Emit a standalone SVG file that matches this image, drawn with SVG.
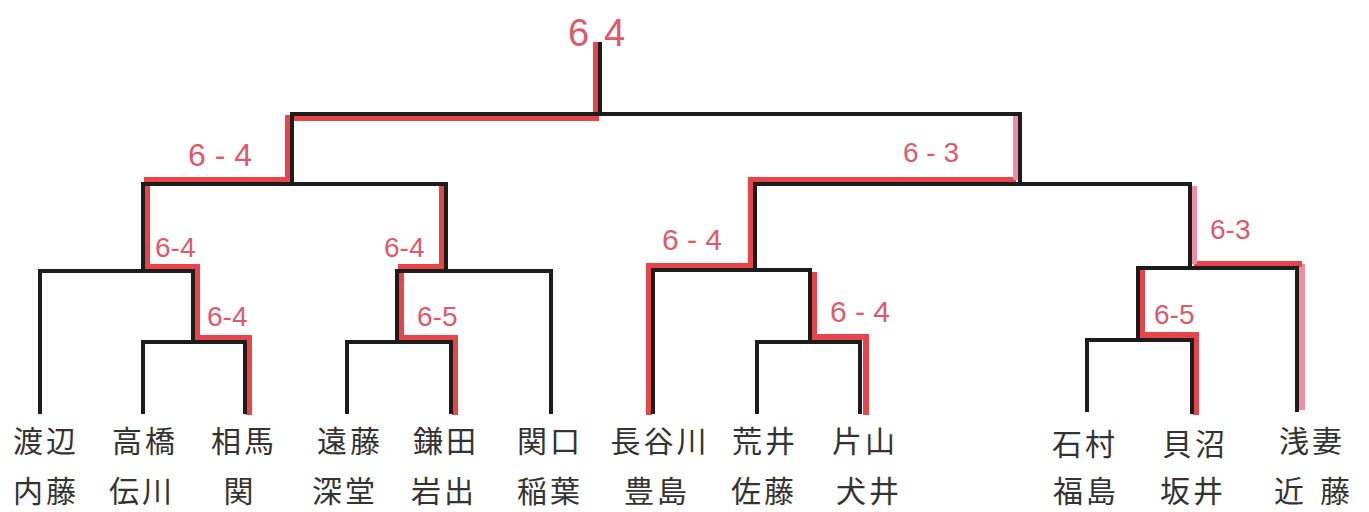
<svg xmlns="http://www.w3.org/2000/svg" width="1369" height="512" viewBox="0 0 1369 512">
<style>
.bk{fill:none;stroke:#1c1c1c;stroke-width:4;stroke-linejoin:miter;stroke-linecap:square}
.rd{fill:none;stroke:#e8444c;stroke-width:6;stroke-linejoin:miter}
.pk{fill:none;stroke:#f28ca4;stroke-width:6;stroke-linejoin:miter}
.sc{font-family:"Liberation Sans","DejaVu Sans",sans-serif;font-size:28px;fill:#dc5a6c}
.nm{font-family:"Noto Sans CJK JP","Noto Sans CJK SC",sans-serif;font-size:30px;fill:#333;text-anchor:middle;letter-spacing:3px}
</style>
<rect width="1369" height="512" fill="#ffffff"/>
<g id="connectors">
  <path class="rd" d="M249,415 V338 H197 V267 H147 V180 H288 V118 H596 V42"/>
  <path class="rd" d="M455,415 V338 H401 V267 H442 V186"/>
  <path class="rd" d="M649,415 V266 H751 V180 H1016"/>
  <path class="pk" d="M1016,180 V114"/>
  <path class="rd" d="M866,415 V337 H814 V272"/>
  <path class="pk" d="M1302,410 V264"/>
  <path class="rd" d="M1302,264 H1194"/>
  <path class="pk" d="M1194,264 V186"/>
  <path class="rd" d="M1196,415 V335 H1142 V270"/>
  <path class="bk" d="M600,114 V44"/>
  <path class="bk" d="M292,184 V114 H1020 V184"/>
  <path class="bk" d="M143,271 V184 H446 V271"/>
  <path class="bk" d="M40,412 V271 H193 V342"/>
  <path class="bk" d="M143,412 V342 H245 V412"/>
  <path class="bk" d="M397,342 V271 H551 V412"/>
  <path class="bk" d="M347,412 V342 H451 V412"/>
  <path class="bk" d="M755,270 V184 H1190 V268"/>
  <path class="bk" d="M653,412 V270 H810 V342"/>
  <path class="bk" d="M757,412 V342 H860 V412"/>
  <path class="bk" d="M1138,340 V268 H1297 V410"/>
  <path class="bk" d="M1087,410 V340 H1192 V412"/>
</g>
<g id="match-final"><text class="sc" x="568" y="46" style="font-size:38px">6</text><text class="sc" x="604" y="46" style="font-size:38px">4</text></g>
<g id="match-sf1"><text class="sc" x="188" y="166" style="font-size:32px">6 - 4</text></g>
<g id="match-sf2"><text class="sc" x="903" y="162">6 - 3</text></g>
<g id="match-qf1"><text class="sc" x="155" y="257">6-4</text></g>
<g id="match-qf2"><text class="sc" x="384" y="257">6-4</text></g>
<g id="match-qf3"><text class="sc" x="662" y="250" style="font-size:30px">6 - 4</text></g>
<g id="match-qf4"><text class="sc" x="1210" y="239">6-3</text></g>
<g id="match-r1a"><text class="sc" x="207" y="326">6-4</text></g>
<g id="match-r1b"><text class="sc" x="417" y="326">6-5</text></g>
<g id="match-r1c"><text class="sc" x="830" y="322" style="font-size:30px">6 - 4</text></g>
<g id="match-r1d"><text class="sc" x="1154" y="324">6-5</text></g>
<g id="p1"><text class="nm" x="46" y="452">渡辺</text><text class="nm" x="46" y="502">内藤</text></g>
<g id="p2"><text class="nm" x="145" y="452">高橋</text><text class="nm" x="142" y="502">伝川</text></g>
<g id="p3"><text class="nm" x="244" y="452">相馬</text><text class="nm" x="240" y="502">関</text></g>
<g id="p4"><text class="nm" x="350" y="452">遠藤</text><text class="nm" x="345" y="502">深堂</text></g>
<g id="p5"><text class="nm" x="446" y="452">鎌田</text><text class="nm" x="444" y="502">岩出</text></g>
<g id="p6"><text class="nm" x="550" y="452">関口</text><text class="nm" x="550" y="502">稲葉</text></g>
<g id="p7"><text class="nm" x="660" y="452">長谷川</text><text class="nm" x="657" y="502">豊島</text></g>
<g id="p8"><text class="nm" x="765" y="452">荒井</text><text class="nm" x="764" y="502">佐藤</text></g>
<g id="p9"><text class="nm" x="865" y="452">片山</text><text class="nm" x="869" y="502">犬井</text></g>
<g id="p10"><text class="nm" x="1085" y="455">石村</text><text class="nm" x="1086" y="502">福島</text></g>
<g id="p11"><text class="nm" x="1195" y="455">貝沼</text><text class="nm" x="1193" y="502">坂井</text></g>
<g id="p12"><text class="nm" x="1312" y="452">浅妻</text><text class="nm" x="1320" y="502" style="letter-spacing:16px">近藤</text></g>
</svg>
